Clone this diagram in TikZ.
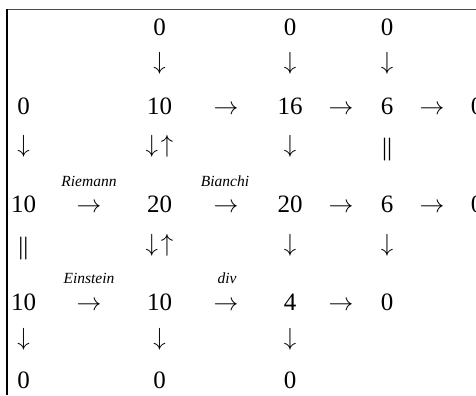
\documentclass[tikz,border=0pt]{standalone}
\usepackage{fontspec}
\setmainfont{Liberation Serif}
\newcommand{\ra}{$\rightarrow$}
\newcommand{\da}{$\downarrow$}
\newcommand{\dua}{$\downarrow\mkern2mu\uparrow$}
\begin{document}
\begin{tikzpicture}[x=1bp,y=-1bp,
  cell/.style={inner sep=0pt,anchor=base,font=\fontsize{25bp}{30bp}\selectfont},
  lab/.style={inner sep=0pt,anchor=base,font=\fontsize{15.5bp}{18bp}\selectfont\itshape},
  frame/.style={line width=1.3bp}]
\useasboundingbox (0,0) rectangle (476,395);
\clip (0,0) rectangle (476,395);
\draw[frame,draw=black!70] (6.5,9.5) -- (476,9.5);
\draw[frame,draw=black] (7,9) -- (7,395);
% row 1 (baseline 35)
\node[cell] (r1c2) at (159.5,35) {0};
\node[cell] (r1c3) at (290,35) {0};
\node[cell] (r1c4) at (387,35) {0};
% row 2 arrows
\node[cell] (r2c2) at (159.5,69) {\da};
\node[cell] (r2c3) at (290,69) {\da};
\node[cell] (r2c4) at (387,69) {\da};
% row 3 (baseline 114)
\node[cell] (r3c1) at (23.5,114) {0};
\node[cell] (r3c2) at (159.5,114) {10};
\node[cell] (r3a2) at (226,114) {\ra};
\node[cell] (r3c3) at (290,114) {16};
\node[cell] (r3a3) at (341,114) {\ra};
\node[cell] (r3c4) at (387,114) {6};
\node[cell] (r3a4) at (432,114) {\ra};
\node[cell] (r3c5) at (477,114) {0};
% row 4
\node[cell] (r4c1) at (23.5,152) {\da};
\node[cell] (r4c2) at (159.5,152) {\dua};
\node[cell] (r4c3) at (290,152) {\da};
\node[cell] (r4c4) at (387,155) {||};
% row 5 (baseline 212) with labels (baseline 186)
\node[lab] (l5a1) at (89,186) {Riemann};
\node[lab] (l5a2) at (225,186) {Bianchi};
\node[cell] (r5c1) at (23.5,212) {10};
\node[cell] (r5a1) at (89,212) {\ra};
\node[cell] (r5c2) at (159.5,212) {20};
\node[cell] (r5a2) at (226,212) {\ra};
\node[cell] (r5c3) at (290,212) {20};
\node[cell] (r5a3) at (341,212) {\ra};
\node[cell] (r5c4) at (387,212) {6};
\node[cell] (r5a4) at (432,212) {\ra};
\node[cell] (r5c5) at (477,212) {0};
% row 6
\node[cell] (r6c1) at (23.5,254) {||};
\node[cell] (r6c2) at (159.5,251) {\dua};
\node[cell] (r6c3) at (290,251) {\da};
\node[cell] (r6c4) at (387,251) {\da};
% row 7 (baseline 310) with labels (baseline 283)
\node[lab] (l7a1) at (89,283) {Einstein};
\node[lab] (l7a2) at (227,283) {div};
\node[cell] (r7c1) at (23.5,310) {10};
\node[cell] (r7a1) at (89,310) {\ra};
\node[cell] (r7c2) at (159.5,310) {10};
\node[cell] (r7a2) at (226,310) {\ra};
\node[cell] (r7c3) at (290,310) {4};
\node[cell] (r7a3) at (341,310) {\ra};
\node[cell] (r7c4) at (387,310) {0};
% row 8
\node[cell] (r8c1) at (23.5,345) {\da};
\node[cell] (r8c2) at (159.5,345) {\da};
\node[cell] (r8c3) at (290,345) {\da};
% row 9 (baseline 388)
\node[cell] (r9c1) at (23.5,388) {0};
\node[cell] (r9c2) at (159.5,388) {0};
\node[cell] (r9c3) at (290,388) {0};
\end{tikzpicture}
\end{document}
